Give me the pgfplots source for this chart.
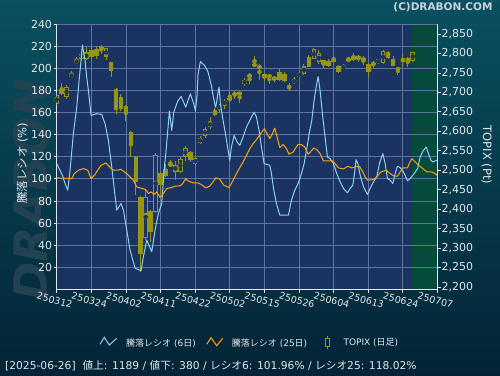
\documentclass[border=0pt]{standalone}
\usepackage{fontspec}
\setmainfont{DejaVu Sans}
\newfontfamily\cjk{Noto Sans CJK JP}
\usepackage{pgfplots}
\pgfplotsset{compat=1.18}
\usepackage{pgfplotstable}

\definecolor{bgtop}{RGB}{10,80,96}
\definecolor{bgbot}{RGB}{3,36,54}
\definecolor{plotbg}{RGB}{26,51,97}
\definecolor{futbg}{RGB}{6,74,60}
\definecolor{gridc}{RGB}{95,115,160}
\definecolor{rsix}{RGB}{140,210,240}
\definecolor{rtwf}{RGB}{250,165,10}
\definecolor{candle}{RGB}{150,150,20}
\definecolor{txt}{RGB}{225,230,235}
\definecolor{wmark}{RGB}{34,66,82}

% TOPIX daily candles: index, open, high, low, close
\pgfplotstableread{
i o h l c
0 2670 2700 2666 2693
2 2689 2720 2683 2713
3 2739 2754 2738 2747
4 2775 2790 2774 2783
5 2787 2805 2783 2799
6 2785 2816 2783 2803
10 2792 2815 2783 2813
18 2327 2451 2320 2432
20 2393 2545 2390 2539
24 2496 2524 2475 2513
25 2496 2533 2492 2528
26 2535 2562 2524 2556
28 2515 2533 2512 2531
29 2570 2589 2567 2583
30 2589 2610 2584 2606
31 2610 2636 2606 2625
33 2657 2670 2649 2666
34 2667 2683 2657 2679
38 2721 2737 2717 2732
48 2725 2740 2721 2733
49 2739 2755 2736 2751
50 2747 2773 2745 2768
52 2786 2813 2785 2811
53 2777 2809 2772 2800
58 2762 2772 2760 2768
65 2775 2787 2773 2785
66 2775 2809 2774 2806
72 2781 2805 2779 2803
}\upc

\pgfplotstableread{
i o h l c
1 2708 2723 2693 2696
7 2809 2816 2787 2790
8 2811 2817 2787 2794
9 2817 2822 2798 2811
11 2777 2779 2740 2754
12 2708 2710 2644 2655
13 2687 2696 2651 2658
14 2665 2667 2627 2648
15 2598 2600 2533 2565
16 2535 2537 2436 2470
17 2432 2435 2239 2286
19 2396 2398 2316 2342
21 2492 2495 2439 2462
22 2503 2517 2482 2485
23 2517 2526 2509 2511
27 2547 2549 2520 2526
32 2650 2661 2640 2643
35 2685 2704 2674 2680
36 2699 2704 2684 2693
37 2700 2702 2673 2694
39 2745 2747 2721 2741
40 2773 2793 2767 2768
41 2769 2772 2733 2762
42 2747 2751 2730 2736
43 2745 2747 2721 2739
44 2739 2743 2727 2733
45 2753 2759 2729 2733
46 2747 2753 2727 2730
47 2717 2723 2703 2712
51 2790 2796 2764 2766
54 2782 2784 2762 2773
55 2781 2785 2766 2769
56 2786 2793 2777 2779
57 2768 2771 2749 2753
59 2786 2790 2781 2781
60 2793 2800 2781 2783
61 2793 2797 2779 2786
62 2789 2793 2770 2781
63 2773 2776 2740 2753
64 2776 2781 2763 2771
67 2805 2807 2785 2789
68 2786 2793 2768 2769
69 2763 2765 2745 2757
70 2789 2799 2766 2777
71 2789 2791 2766 2779
}\downc

\pgfplotsset{
  geom/.style={at={(56.7bp,85.5bp)}, anchor=south west, scale only axis,
    width=380.8bp, height=265.5bp, xmin=0, xmax=77},
  wick/.style={color=candle, only marks, mark=none, forget plot,
    error bars/.cd, y dir=both, y explicit, error mark=none,
    error bar style={color=candle, line width=1bp}},
  body/.style={color=candle, only marks, mark=none, forget plot,
    error bars/.cd, y dir=both, y explicit, error mark=none,
    error bar style={color=candle, line width=4.6bp}},
  inner/.style={color=plotbg, only marks, mark=none, forget plot,
    error bars/.cd, y dir=both, y explicit, error mark=none,
    error bar style={color=plotbg, line width=2.6bp}},
}

\begin{document}
\begin{tikzpicture}[x=1bp,y=1bp]
\shade[top color=bgtop, bottom color=bgbot] (0,0) rectangle (500,375);
\useasboundingbox (0,0) rectangle (500,375);
\node[rotate=90, text=wmark, font=\fontsize{46bp}{50bp}\selectfont\bfseries\itshape] at (31,185) {DRABON};
\fill[plotbg] (56.7,85.5) rectangle (437.5,351);
\fill[futbg] (411.7,85.5) rectangle (437.5,351);

% grid, left and bottom axis
\begin{axis}[geom, ymin=0, ymax=240,
  axis x line*=bottom, axis y line*=left,
  axis line style={txt, line width=1bp, -},
  xtick={0,7,...,77},
  xticklabels={250312,250324,250402,250411,250422,250502,250515,250526,250604,250613,250624,250707},
  ytick={20,40,...,240},
  grid=major, grid style={gridc, line width=0.8bp},
  tick align=outside, major tick length=3bp,
  tick style={txt, line width=0.8bp},
  ticklabel style={font=\fontsize{11bp}{13bp}\selectfont, text=txt},
  xticklabel style={font=\fontsize{9.5bp}{11bp}\selectfont, rotate=-15, anchor=center, yshift=-8bp},
  yticklabel style={inner sep=1.5bp},
  /pgf/number format/assume math mode=true]
\end{axis}

% TOPIX candles, right axis
\begin{axis}[geom, ymin=2193.6, ymax=2875.7,
  axis x line=none, axis y line*=right,
  axis line style={txt, line width=1bp, -},
  ytick={2200,2250,...,2850},
  tick align=outside, major tick length=3bp,
  tick style={txt, line width=0.8bp},
  yticklabel style={font=\fontsize{11bp}{13bp}\selectfont, text=txt, inner sep=1bp},
  /pgf/number format/.cd, assume math mode=true, 1000 sep={,}]
\addplot[wick] table[x=i, y expr={(\thisrow{h}+\thisrow{l})/2}, y error expr={(\thisrow{h}-\thisrow{l})/2}] {\upc};
\addplot[wick] table[x=i, y expr={(\thisrow{h}+\thisrow{l})/2}, y error expr={(\thisrow{h}-\thisrow{l})/2}] {\downc};
\addplot[body] table[x=i, y expr={(\thisrow{o}+\thisrow{c})/2}, y error expr={abs(\thisrow{c}-\thisrow{o})/2}] {\upc};
\addplot[inner] table[x=i, y expr={(\thisrow{o}+\thisrow{c})/2}, y error expr={abs(\thisrow{c}-\thisrow{o})/2-2.57}] {\upc};
\addplot[body] table[x=i, y expr={(\thisrow{o}+\thisrow{c})/2}, y error expr={abs(\thisrow{c}-\thisrow{o})/2}] {\downc};
\end{axis}

% advance/decline ratio lines
\begin{axis}[geom, ymin=0, ymax=240, hide axis]
\addplot[rsix, line width=1bp, line join=round] coordinates {
(0,113.8) (1.15,103.3) (1.69,95.8) (2.23,89.8) (2.70,107.8) (3.37,140.8) (4.05,164.9) (4.52,188.9) (4.92,206.9) (5.19,221.0) (5.73,206.9) (6.07,191.9) (6.41,179.9) (6.95,157.4) (8.09,158.9) (9.10,158.3) (9.78,149.8) (10.45,134.8) (11.13,110.8) (11.67,89.8) (12.14,71.8) (13.01,77.8) (13.49,71.8) (14.16,53.8) (14.83,35.7) (15.85,19.2) (17.06,17.1) (17.53,29.7) (18.21,44.7) (19.22,34.2) (19.89,53.8) (20.57,68.8) (21.24,77.8) (21.78,110.8) (22.12,125.8) (22.79,161.3) (23.26,143.8) (23.67,160.4) (24.48,170.3) (25.15,174.5) (26.09,164.9) (27.03,176.9) (27.71,167.9) (28.05,161.3) (28.38,175.4) (28.58,194.9) (29.06,206.0) (29.93,202.4) (30.61,196.4) (31.28,184.4) (31.62,175.4) (32.09,164.9) (32.30,167.9) (32.63,178.4) (32.83,182.9) (33.10,167.9) (33.64,152.9) (34.12,140.8) (34.66,125.8) (34.99,116.8) (35.33,128.8) (35.87,139.3) (36.48,133.3) (37.02,130.3) (37.69,137.8) (38.36,146.8) (39.04,152.9) (39.92,160.4) (40.39,155.9) (40.92,143.8) (41.40,128.8) (41.94,113.8) (43.08,112.3) (43.42,104.8) (43.90,89.8) (44.43,77.8) (45.11,67.3) (46.86,67.3) (47.47,80.8) (48.14,89.8) (48.82,95.8) (49.49,104.8) (50.03,113.8) (50.50,125.8) (51.17,143.8) (51.58,152.9) (52.05,170.9) (52.45,182.9) (52.86,192.5) (53.26,179.9) (53.80,155.9) (54.27,137.8) (54.74,119.8) (55.28,118.3) (55.96,113.8) (56.63,104.8) (57.31,97.3) (57.98,91.3) (58.79,87.4) (59.33,91.3) (59.87,94.3) (60.21,104.8) (60.54,117.4) (60.88,113.8) (61.36,103.3) (62.03,92.8) (62.84,85.9) (63.38,91.3) (64.05,97.3) (64.72,101.8) (65.26,113.8) (65.94,122.8) (66.41,113.8) (66.88,100.3) (67.42,98.8) (67.96,95.8) (68.43,104.8) (68.91,111.4) (69.45,110.2) (70.12,106.3) (70.93,98.2) (71.47,100.3) (72.28,104.8) (72.98,109.3) (73.50,119.8) (74.03,124.9) (74.71,128.8) (75.18,122.8) (75.65,116.8) (76.05,115.3) (76.86,116.8)
};
\addplot[rtwf, line width=1bp, line join=round] coordinates {
(0,100.9) (3.03,100.3) (3.57,104.8) (4.38,107.8) (5.39,109.3) (6.27,107.8) (6.95,100.3) (7.62,103.3) (8.29,107.8) (8.97,112.3) (9.98,114.4) (10.79,110.2) (11.46,107.8) (12.34,107.8) (12.95,108.7) (13.69,106.3) (14.50,103.3) (15.51,98.8) (16.18,92.8) (17.19,91.3) (18.00,90.4) (18.54,86.8) (19.08,88.3) (19.69,85.9) (20.23,88.3) (20.90,83.2) (21.58,86.8) (22.25,91.3) (23.26,92.2) (23.94,93.4) (24.95,93.7) (25.49,95.8) (26.09,100.3) (26.56,98.2) (27.57,96.4) (28.58,96.4) (29.26,94.9) (30.13,91.9) (30.94,93.4) (31.62,97.3) (32.16,100.9) (32.97,99.7) (33.78,94.3) (34.85,92.2) (35.67,98.8) (36.34,104.8) (37.02,110.2) (37.69,115.3) (38.36,121.3) (39.04,127.3) (39.71,131.8) (40.39,135.4) (41.19,140.8) (42.00,145.3) (42.54,140.8) (43.08,136.3) (43.62,140.8) (44.09,145.9) (44.57,137.8) (45.11,128.2) (45.78,131.2) (46.45,127.3) (46.99,122.2) (47.80,124.3) (48.81,131.2) (49.49,130.9) (50.16,128.8) (50.84,122.2) (51.72,126.4) (51.92,127.9) (52.59,126.4) (53.26,122.8) (53.94,116.2) (55.83,116.2) (56.30,113.8) (56.97,109.9) (57.98,109.0) (58.86,111.4) (59.67,109.9) (60.35,110.8) (61.22,111.4) (61.70,107.8) (62.37,101.8) (62.84,98.8) (64.05,99.4) (64.72,101.8) (65.53,106.3) (66.61,107.8) (67.42,104.8) (68.10,102.7) (68.91,102.4) (69.45,106.3) (69.99,109.9) (70.93,109.9) (71.27,113.8) (71.81,118.3) (72.48,115.3) (73.15,112.3) (74.03,109.3) (74.84,106.3) (75.85,106.3) (76.52,104.8) (76.86,103.3)
};
\end{axis}

% titles and axis names
\node[anchor=east, text={rgb,255:red,200;green,210;blue,218}, font=\fontsize{10.5bp}{12bp}\selectfont\bfseries] at (496,367.5) {(C)DRABON.COM};
\node[rotate=90, text=txt, font=\fontsize{11.5bp}{13bp}\selectfont] at (22.3,211.7) {{\cjk 騰落レシオ} (\%)};
\node[rotate=-90, text=txt, font=\fontsize{11.5bp}{13bp}\selectfont] at (486.7,220) {TOPIX (Pt)};

% legend
\draw[rsix, line width=1bp] (100,30.7) -- (104.3,37.7) -- (109.3,30) -- (116.7,36.7);
\node[anchor=west, text=txt, font=\fontsize{9bp}{11bp}\selectfont, inner sep=0] at (126,32) {{\cjk 騰落レシオ} (6{\cjk 日})};
\draw[rtwf, line width=1bp] (206.7,30.7) -- (211,37.3) -- (216.7,29.3) -- (222.7,36.7);
\node[anchor=west, text=txt, font=\fontsize{9bp}{11bp}\selectfont, inner sep=0] at (231.7,32) {{\cjk 騰落レシオ} (25{\cjk 日})};
\draw[candle, line width=1bp] (327,26) -- (327,39.3);
\fill[candle] (324.5,28.3) rectangle (329.5,36.7);
\fill[bgbot] (325.5,29.3) rectangle (328.5,35.7);
\node[anchor=west, text=txt, font=\fontsize{9bp}{11bp}\selectfont, inner sep=0] at (343.3,32) {TOPIX ({\cjk 日足})};

% status line
\node[anchor=west, text=txt, font=\fontsize{10.7bp}{12bp}\selectfont, inner sep=0] at (5,9) {[2025-06-26]\ \ {\cjk 値上}: 1189 / {\cjk 値下}: 380 / {\cjk レシオ}6: 101.96\% / {\cjk レシオ}25: 118.02\%};
\end{tikzpicture}
\end{document}
